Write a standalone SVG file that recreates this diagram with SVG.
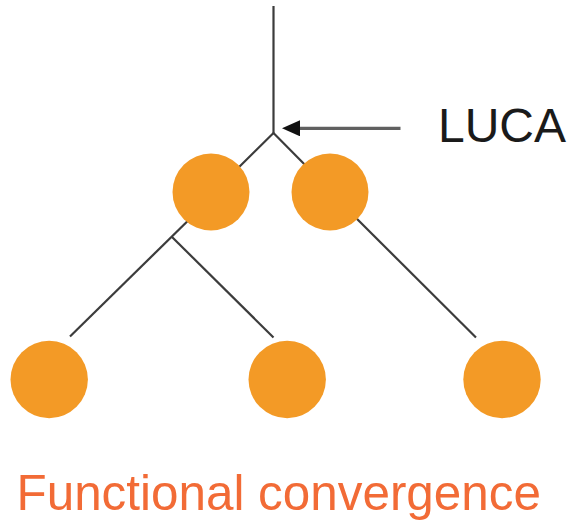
<svg xmlns="http://www.w3.org/2000/svg" width="575" height="524" viewBox="0 0 575 524">
  <style>
    .branch { stroke: #3c3c3c; stroke-width: 2.2; fill: none; stroke-linecap: butt; }
    .pointer { stroke: #606060; stroke-width: 3.2; fill: none; }
    .taxon { fill: #F39A26; }
    .label { font-family: "Liberation Sans", Arial, sans-serif; }
  </style>
  <defs>
    <marker id="arrowhead" viewBox="0 0 18 16" refX="0" refY="8" markerWidth="18" markerHeight="16" markerUnits="userSpaceOnUse" orient="auto-start-reverse">
      <path d="M0,0 L18,8 L0,16 Z" fill="#111"/>
    </marker>
  </defs>

  <!-- tree edges, drawn under the nodes -->
  <g id="connectors">
    <line class="branch" x1="273.5" y1="6" x2="273.5" y2="134"/>
    <polyline class="branch" points="228,178 273.5,133 318,178"/>
    <line class="branch" x1="204" y1="205" x2="70" y2="336.5"/>
    <line class="branch" x1="171.5" y1="236.5" x2="273.5" y2="337.5"/>
    <line class="branch" x1="340" y1="202" x2="476" y2="337.5"/>
    <!-- pointer to the root -->
    <line class="pointer" x1="400.5" y1="128.3" x2="300" y2="128.3" marker-end="url(#arrowhead)"/>
  </g>

  <g id="node-a"><circle class="taxon" cx="211" cy="192" r="38.5"/></g>
  <g id="node-b"><circle class="taxon" cx="330" cy="192" r="38.5"/></g>
  <g id="node-c"><circle class="taxon" cx="49.2" cy="379.5" r="38.7"/></g>
  <g id="node-d"><circle class="taxon" cx="287.2" cy="379.5" r="38.7"/></g>
  <g id="node-e"><circle class="taxon" cx="502" cy="379.5" r="38.7"/></g>

  <g id="label-luca">
    <text class="label" x="438" y="142.3" font-size="48" fill="#1a1a1a">LUCA</text>
  </g>
  <g id="caption">
    <text class="label" x="16.5" y="510" font-size="49.4" fill="#F26B36">Functional convergence</text>
  </g>
</svg>
